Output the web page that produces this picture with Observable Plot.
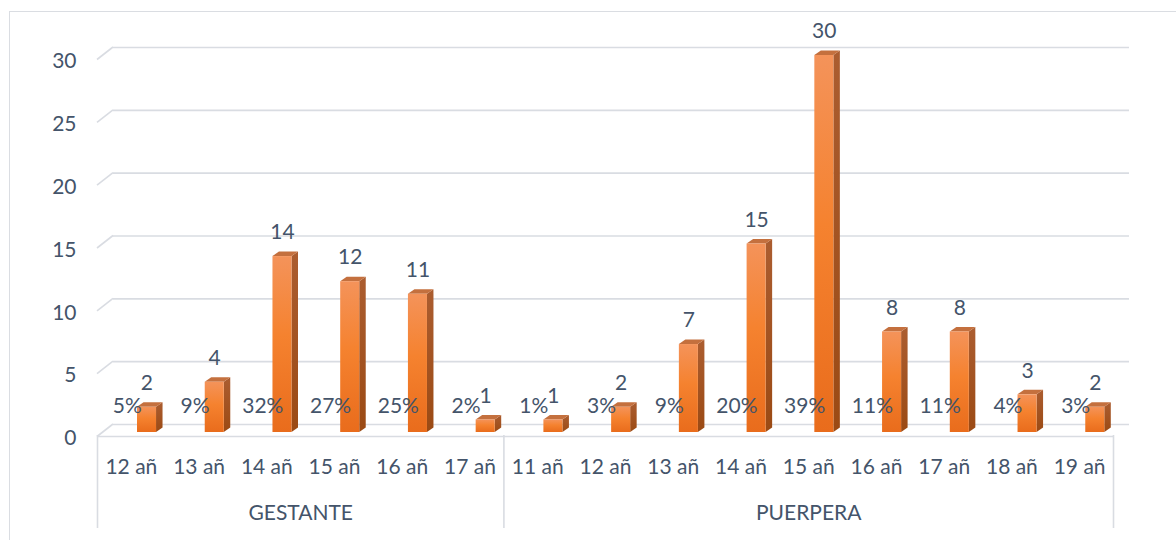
<!DOCTYPE html>
<html>
<head>
<meta charset="utf-8">
<script src="https://cdn.jsdelivr.net/npm/d3@7"></script>
<script src="https://cdn.jsdelivr.net/npm/@observablehq/plot@0.6"></script>
<style>
  html, body { margin: 0; padding: 0; background: #ffffff; overflow: hidden; }
  #chart { position: relative; width: 1176px; height: 540px; }
  #chart svg { position: absolute; left: 0; top: 0; }
  #edge {
    position: absolute; left: 9px; top: 11px; width: 1200px; height: 600px;
    border-left: 1.5px solid #dadde2; border-top: 1.5px solid #dadde2;
    pointer-events: none;
  }
</style>
</head>
<body>
<div id="chart"><div id="edge"></div></div>
<script>
// Age groups per condition, counts and the share each count represents
const groups = ["GESTANTE", "PUERPERA"];
const gestanteAges = ["12 añ", "13 añ", "14 añ", "15 añ", "16 añ", "17 añ"];
const gestanteCounts = [2, 4, 14, 12, 11, 1];
const gestantePercents = ["5%", "9%", "32%", "27%", "25%", "2%"];
const puerperaAges = ["11 añ", "12 añ", "13 añ", "14 añ", "15 añ", "16 añ", "17 añ", "18 añ", "19 añ"];
const puerperaCounts = [1, 2, 7, 15, 30, 8, 8, 3, 2];
const puerperaPercents = ["1%", "3%", "9%", "20%", "39%", "11%", "11%", "4%", "3%"];
const yTicks = [0, 5, 10, 15, 20, 25, 30];

// One row per bar, in drawing order
const rows = [];
gestanteAges.forEach((age, k) => rows.push({group: groups[0], age, count: gestanteCounts[k], pct: gestantePercents[k]}));
puerperaAges.forEach((age, k) => rows.push({group: groups[1], age, count: puerperaCounts[k], pct: puerperaPercents[k]}));
rows.forEach((d, i) => (d.i = i));

// Group spans along the category axis
const groupSpans = groups.map((g) => {
  const members = rows.filter((d) => d.group === g);
  return {group: g, start: members[0].i, end: members[members.length - 1].i + 1};
});
const groupEdges = [0, ...groupSpans.map((s) => s.end)];

const ink = "#44546a";
const grid = "#d9dce2";
const font = "Lato, 'Noto Sans', sans-serif";
const fontSize = 21;

// Bar face geometry inside each category band (pixels)
const faceInsetLeft = 40;
const faceInsetRight = 8.7;
const depthX = 6.5;
const depthY = 4.5;
const wallX = 16;
const wallY = 8;

// Gradients for the bar faces
function gradients() {
  const defs = d3.create("svg:defs");
  const front = defs.append("linearGradient").attr("id", "barFront")
    .attr("x1", 0).attr("y1", 0).attr("x2", 0).attr("y2", 1);
  front.append("stop").attr("offset", "0%").attr("stop-color", "#f4935a");
  front.append("stop").attr("offset", "45%").attr("stop-color", "#f5822f");
  front.append("stop").attr("offset", "100%").attr("stop-color", "#e96c1c");
  const side = defs.append("linearGradient").attr("id", "barSide")
    .attr("x1", 0).attr("y1", 0).attr("x2", 0).attr("y2", 1);
  side.append("stop").attr("offset", "0%").attr("stop-color", "#ab5d30");
  side.append("stop").attr("offset", "100%").attr("stop-color", "#9b4a14");
  return defs.node();
}

// Slanted stubs joining the value labels to the back wall
function wallStubs(index, scales) {
  const {x, y} = scales;
  const g = d3.create("svg:g").attr("stroke", grid).attr("stroke-width", 1.6);
  const x0 = x(0);
  for (const t of yTicks) {
    g.append("line")
      .attr("x1", x0).attr("y1", y(t) + 4.5)
      .attr("x2", x0 + wallX).attr("y2", y(t) - wallY);
  }
  return g.node();
}

// Side and top faces that give each bar its depth
function barDepth(index, scales) {
  const {x, y} = scales;
  const g = d3.create("svg:g");
  for (const d of rows) {
    const left = x(d.i) + faceInsetLeft;
    const right = x(d.i + 1) - faceInsetRight;
    const top = y(d.count);
    const base = y(0);
    g.append("path")
      .attr("d", `M${right},${base}L${right},${top}L${right + depthX},${top - depthY}L${right + depthX},${base - depthY}Z`)
      .attr("fill", "url(#barSide)");
    g.append("path")
      .attr("d", `M${left},${top}L${right},${top}L${right + depthX},${top - depthY}L${left + depthX},${top - depthY}Z`)
      .attr("fill", "#c4703e");
  }
  return g.node();
}

const chart = Plot.plot({
  width: 1176,
  height: 540,
  marginLeft: 97,
  marginRight: 63,
  marginTop: 55,
  marginBottom: 108,
  style: {fontFamily: font, fontSize: `${fontSize}px`, color: ink, background: "transparent", overflow: "visible"},
  x: {type: "linear", domain: [0, rows.length], axis: null},
  y: {domain: [0, 30], axis: null},
  marks: [
    gradients,
    // back wall gridlines
    Plot.ruleY(yTicks, {dx: wallX, dy: -wallY, stroke: grid, strokeWidth: 1.6}),
    wallStubs,
    // front edge of the floor
    Plot.ruleY([0], {dy: 4, stroke: grid, strokeWidth: 1.6}),
    // category axis separators
    Plot.ruleX(groupEdges, {stroke: grid, strokeWidth: 1.6, insetTop: 380, insetBottom: -96}),
    // bars
    barDepth,
    Plot.rectY(rows, {x1: "i", x2: (d) => d.i + 1, y: "count", insetLeft: faceInsetLeft, insetRight: faceInsetRight, fill: "url(#barFront)"}),
    // y tick labels
    Plot.text(yTicks, {y: (d) => d, text: (d) => String(d), frameAnchor: "left", textAnchor: "end", lineAnchor: "middle", dx: -21, dy: 6, fill: ink}),
    // percent labels
    Plot.text(rows, {x: (d) => d.i + 0.5, text: "pct", frameAnchor: "bottom", lineAnchor: "middle", dx: -4, dy: -26, fill: ink}),
    // count labels above the bars
    Plot.text(rows, {x: (d) => d.i + 0.5, y: "count", text: (d) => String(d.count), lineAnchor: "middle", dx: 15.6, dy: -24, fill: ink}),
    // age labels
    Plot.text(rows, {x: (d) => d.i + 0.5, text: "age", frameAnchor: "bottom", lineAnchor: "middle", dy: 35, fill: ink}),
    // group labels
    Plot.text(groupSpans, {x: (d) => (d.start + d.end) / 2, text: "group", frameAnchor: "bottom", lineAnchor: "middle", dy: 81, fill: ink})
  ]
});

document.getElementById("chart").prepend(chart);
</script>
</body>
</html>
